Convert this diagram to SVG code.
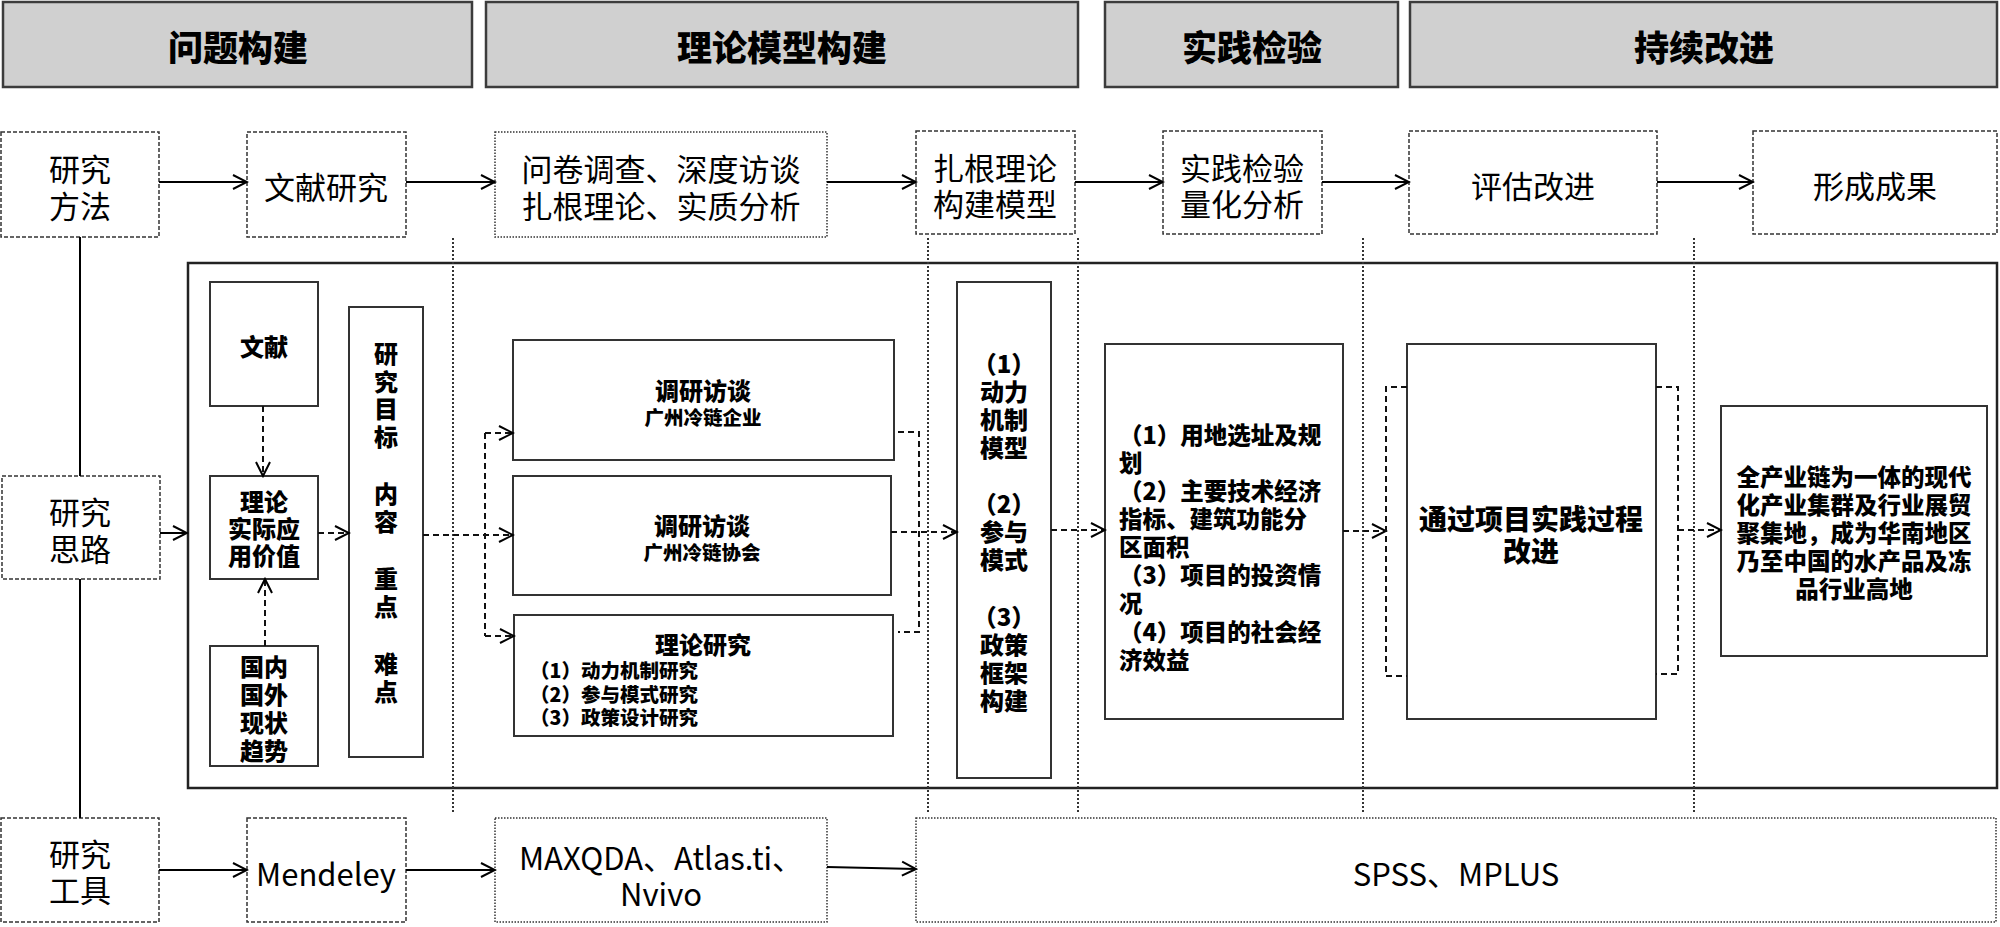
<svg xmlns="http://www.w3.org/2000/svg" width="2000" height="927" viewBox="0 0 2000 927">
<defs>
<style>
text{font-family:"Noto Sans CJK SC","Microsoft YaHei",sans-serif;fill:#000;text-anchor:middle;dominant-baseline:central}
.hdr rect{fill:#d0d0d0;stroke:#3c3c3c;stroke-width:2.5}
.hdr text{font-size:35px;font-weight:900}
.top rect{fill:#fff;stroke:#333;stroke-width:1.5;stroke-dasharray:4 2}
.top rect.dot{stroke-dasharray:1.5 1.5}
.top text{font-size:31px;font-weight:400}
.box rect{fill:#fff;stroke:#333;stroke-width:2}
.box text{font-weight:900;font-size:24px}
.box text.sm{font-size:19.5px}
.box text.md{font-size:23.5px}
.box text.lg{font-size:28px}
.box text.l{text-anchor:start}
.frame{fill:none;stroke:#222;stroke-width:2.5}
.vdot{stroke:#333;stroke-width:2;stroke-dasharray:2 2;fill:none}
.solid{stroke:#000;stroke-width:2;fill:none}
.dash{stroke:#111;stroke-width:2;fill:none;stroke-dasharray:6 4}
.ar{marker-end:url(#ah)}
</style>
<marker id="ah" markerUnits="userSpaceOnUse" markerWidth="18" markerHeight="18" viewBox="0 0 18 18" refX="16" refY="9" orient="auto">
<path d="M2,2 L16,9 L2,16" fill="none" stroke="#000" stroke-width="2"/>
</marker>
</defs>

<g id="guides">
<rect class="frame" x="188" y="263" width="1809" height="525"/>
<line class="vdot" x1="453" y1="238" x2="453" y2="812"/>
<line class="vdot" x1="928" y1="238" x2="928" y2="812"/>
<line class="vdot" x1="1078" y1="238" x2="1078" y2="812"/>
<line class="vdot" x1="1363" y1="238" x2="1363" y2="812"/>
<line class="vdot" x1="1694" y1="238" x2="1694" y2="812"/>
</g>

<g class="hdr">
<g id="h1"><rect x="3" y="2" width="469" height="85"/><text x="238" y="45">问题构建</text></g>
<g id="h2"><rect x="486" y="2" width="592" height="85"/><text x="782" y="45">理论模型构建</text></g>
<g id="h3"><rect x="1105" y="2" width="293" height="85"/><text x="1252" y="45">实践检验</text></g>
<g id="h4"><rect x="1410" y="2" width="587" height="85"/><text x="1704" y="45">持续改进</text></g>
</g>

<g class="top">
<g id="m1"><rect x="1" y="132" width="158" height="105"/><text x="80" y="167">研究</text><text x="80" y="204">方法</text></g>
<g id="m2"><rect x="247" y="132" width="159" height="105"/><text x="326" y="185">文献研究</text></g>
<g id="m3"><rect class="dot" x="495" y="132" width="332" height="105"/><text x="661" y="167">问卷调查、深度访谈</text><text x="661" y="204">扎根理论、实质分析</text></g>
<g id="m4"><rect x="916" y="131" width="159" height="103"/><text x="995" y="166">扎根理论</text><text x="995" y="202">构建模型</text></g>
<g id="m5"><rect x="1163" y="131" width="159" height="103"/><text x="1242" y="166">实践检验</text><text x="1242" y="202">量化分析</text></g>
<g id="m6"><rect x="1409" y="131" width="248" height="103"/><text x="1533" y="184">评估改进</text></g>
<g id="m7"><rect x="1753" y="131" width="244" height="103"/><text x="1875" y="184">形成成果</text></g>

<g id="s1"><rect x="2" y="476" width="158" height="103"/><text x="80" y="510">研究</text><text x="80" y="547">思路</text></g>

<g id="t1"><rect x="1" y="818" width="158" height="104"/><text x="80" y="852">研究</text><text x="80" y="888">工具</text></g>
<g id="t2"><rect x="247" y="818" width="159" height="104"/><text x="326" y="872">Mendeley</text></g>
<g id="t3"><rect class="dot" x="495" y="818" width="332" height="104"/><text x="661" y="856">MAXQDA、Atlas.ti、</text><text x="661" y="892">Nvivo</text></g>
<g id="t4"><rect class="dot" x="916" y="818" width="1080" height="104"/><text x="1456" y="872">SPSS、MPLUS</text></g>
</g>

<g class="box">
<g id="wx"><rect x="210" y="282" width="108" height="124"/><text x="264" y="345">文献</text></g>
<g id="ll"><rect x="210" y="476" width="108" height="103"/><text x="264" y="500">理论</text><text x="264" y="527">实际应</text><text x="264" y="554">用价值</text></g>
<g id="gn"><rect x="210" y="646" width="108" height="120"/><text x="264" y="665">国内</text><text x="264" y="693">国外</text><text x="264" y="721">现状</text><text x="264" y="749">趋势</text></g>
<g id="mb"><rect x="349" y="307" width="74" height="450"/>
<text x="386" y="352">研</text><text x="386" y="380">究</text><text x="386" y="407">目</text><text x="386" y="435">标</text>
<text x="386" y="492">内</text><text x="386" y="520">容</text>
<text x="386" y="577">重</text><text x="386" y="605">点</text>
<text x="386" y="662">难</text><text x="386" y="690">点</text></g>
<g id="ba"><rect x="513" y="340" width="381" height="120"/><text x="703" y="389">调研访谈</text><text class="sm" x="703" y="416">广州冷链企业</text></g>
<g id="bb"><rect x="513" y="476" width="378" height="119"/><text x="702" y="524">调研访谈</text><text class="sm" x="702" y="551">广州冷链协会</text></g>
<g id="bc"><rect x="514" y="615" width="379" height="121"/><text x="703" y="643">理论研究</text>
<text class="sm l" x="530" y="669">（1）动力机制研究</text>
<text class="sm l" x="530" y="693">（2）参与模式研究</text>
<text class="sm l" x="530" y="716">（3）政策设计研究</text></g>
<g id="dl"><rect x="957" y="282" width="94" height="496"/>
<text x="1004" y="362">（1）</text><text x="1004" y="390">动力</text><text x="1004" y="418">机制</text><text x="1004" y="446">模型</text>
<text x="1004" y="502">（2）</text><text x="1004" y="530">参与</text><text x="1004" y="558">模式</text>
<text x="1004" y="615">（3）</text><text x="1004" y="643">政策</text><text x="1004" y="671">框架</text><text x="1004" y="699">构建</text></g>
<g id="sj"><rect x="1105" y="344" width="238" height="375"/>
<text class="md l" x="1119" y="434">（1）用地选址及规</text>
<text class="md l" x="1119" y="462">划</text>
<text class="md l" x="1119" y="490">（2）主要技术经济</text>
<text class="md l" x="1119" y="518">指标、建筑功能分</text>
<text class="md l" x="1119" y="546">区面积</text>
<text class="md l" x="1119" y="574">（3）项目的投资情</text>
<text class="md l" x="1119" y="602">况</text>
<text class="md l" x="1119" y="631">（4）项目的社会经</text>
<text class="md l" x="1119" y="659">济效益</text>
</g>
<g id="tg"><rect x="1407" y="344" width="249" height="375"/><text class="lg" x="1531" y="518">通过项目实践过程</text><text class="lg" x="1531" y="550">改进</text></g>
<g id="cg"><rect x="1721" y="406" width="266" height="250"/>
<text class="md" x="1854" y="476">全产业链为一体的现代</text>
<text class="md" x="1854" y="504">化产业集群及行业展贸</text>
<text class="md" x="1854" y="532">聚集地，成为华南地区</text>
<text class="md" x="1854" y="560">乃至中国的水产品及冻</text>
<text class="md" x="1854" y="588">品行业高地</text></g>
</g>

<g id="connectors">
<path class="solid" d="M80,237 V476 M80,579 V818"/>
<path class="solid ar" d="M159,182 H247"/>
<path class="solid ar" d="M406,182 H495"/>
<path class="solid ar" d="M827,182 H916"/>
<path class="solid ar" d="M1075,182 H1163"/>
<path class="solid ar" d="M1322,182 H1409"/>
<path class="solid ar" d="M1657,182 H1753"/>
<path class="solid ar" d="M159,870 H247"/>
<path class="solid ar" d="M406,870 H495"/>
<path class="solid ar" d="M827,867 L916,869"/>
<path class="solid ar" d="M160,533 H187"/>
<path class="dash ar" d="M263,406 V476"/>
<path class="dash ar" d="M265,646 V579"/>
<path class="dash ar" d="M318,533 H349"/>
<path class="dash ar" d="M423,535 H513"/>
<path class="dash" d="M485,433 V636"/>
<path class="dash ar" d="M485,433 H513"/>
<path class="dash ar" d="M485,636 H514"/>
<path class="dash" d="M898,432 H919 V632 H898"/>
<path class="dash ar" d="M891,532 H957"/>
<path class="dash ar" d="M1051,530 H1105"/>
<path class="dash ar" d="M1343,531 H1386"/>
<path class="dash" d="M1407,387 H1386 V676 H1407"/>
<path class="dash" d="M1656,387 H1678 V674 H1656"/>
<path class="dash ar" d="M1678,530 H1721"/>
</g>
</svg>
